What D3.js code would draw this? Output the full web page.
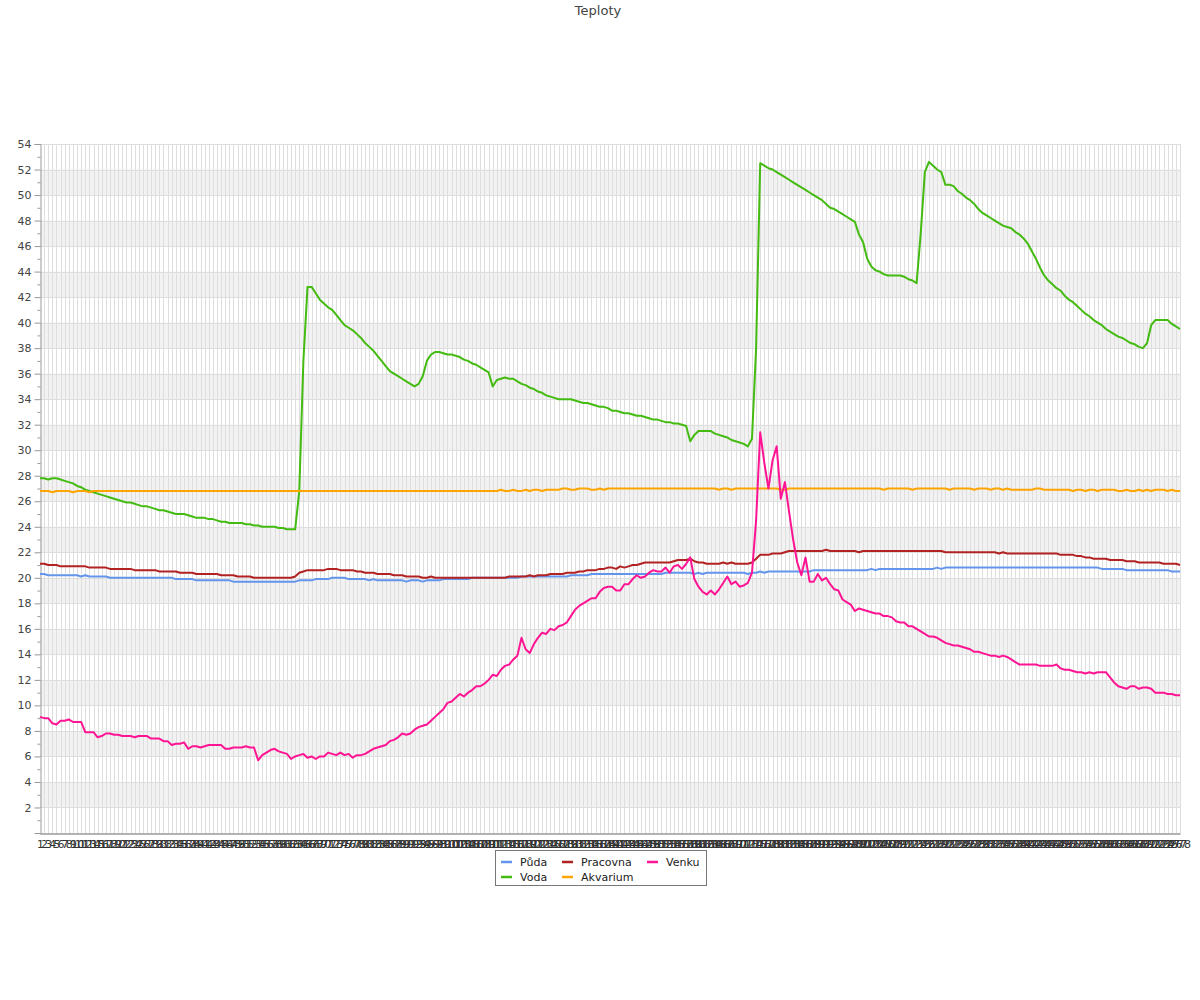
<!DOCTYPE html>
<html><head><meta charset="utf-8">
<script src="https://cdn.jsdelivr.net/npm/d3@7"></script>
<style>body{margin:0;background:#fff;} text{font-family:"DejaVu Sans",sans-serif;}</style>
</head><body>
<svg id="chart" width="1200" height="1000"></svg>
<script>
// ---- data ----
const categories = d3.range(1, 279).map(String); // x tick labels 1..278
const yTicks = [2,4,6,8,10,12,14,16,18,20,22,24,26,28,30,32,34,36,38,40,42,44,46,48,50,52,54];
const seriesNames = ["Půda","Voda","Pracovna","Akvarium","Venku"];
const seriesColors = ["#6495ED","#44BB11","#B22222","#FFA500","#FF1493"];

const puda = [
20.3,20.3,20.2,20.2,20.2,20.2,20.2,20.2,20.2,20.2,
20.1,20.2,20.1,20.1,20.1,20.1,20.1,20.0,20.0,20.0,
20.0,20.0,20.0,20.0,20.0,20.0,20.0,20.0,20.0,20.0,
20.0,20.0,20.0,19.9,19.9,19.9,19.9,19.9,19.8,19.8,
19.8,19.8,19.8,19.8,19.8,19.8,19.8,19.7,19.7,19.7,
19.7,19.7,19.7,19.7,19.7,19.7,19.7,19.7,19.7,19.7,
19.7,19.7,19.7,19.8,19.8,19.8,19.8,19.9,19.9,19.9,
19.9,20.0,20.0,20.0,20.0,19.9,19.9,19.9,19.9,19.9,
19.8,19.9,19.8,19.8,19.8,19.8,19.8,19.8,19.8,19.7,
19.8,19.8,19.8,19.7,19.8,19.8,19.8,19.8,19.9,19.9,
19.9,19.9,19.9,19.9,19.9,20.0,20.0,20.0,20.0,20.0,
20.0,20.0,20.0,20.0,20.0,20.0,20.0,20.1,20.1,20.1,
20.1,20.1,20.1,20.1,20.1,20.1,20.1,20.1,20.1,20.2,
20.2,20.2,20.2,20.2,20.3,20.3,20.3,20.3,20.3,20.3,
20.3,20.3,20.3,20.3,20.3,20.3,20.3,20.3,20.3,20.3,
20.3,20.3,20.4,20.4,20.4,20.4,20.4,20.4,20.4,20.3,
20.4,20.3,20.4,20.4,20.4,20.4,20.4,20.4,20.4,20.4,
20.4,20.4,20.3,20.4,20.4,20.5,20.4,20.5,20.5,20.5,
20.5,20.5,20.5,20.5,20.5,20.5,20.5,20.5,20.6,20.6,
20.6,20.6,20.6,20.6,20.6,20.6,20.6,20.6,20.6,20.6,
20.6,20.6,20.7,20.6,20.7,20.7,20.7,20.7,20.7,20.7,
20.7,20.7,20.7,20.7,20.7,20.7,20.7,20.7,20.8,20.7,
20.8,20.8,20.8,20.8,20.8,20.8,20.8,20.8,20.8,20.8,
20.8,20.8,20.8,20.8,20.8,20.8,20.8,20.8,20.8,20.8,
20.8,20.8,20.8,20.8,20.8,20.8,20.8,20.8,20.8,20.8,
20.8,20.8,20.8,20.8,20.8,20.8,20.8,20.8,20.7,20.7,
20.7,20.7,20.7,20.7,20.6,20.6,20.6,20.6,20.6,20.6,
20.6,20.6,20.6,20.6,20.6,20.5,20.5,20.5];

const voda = [
27.8,27.8,27.7,27.8,27.8,27.7,27.6,27.5,27.4,27.2,
27.1,26.9,26.8,26.7,26.6,26.5,26.4,26.3,26.2,26.1,
26.0,25.9,25.9,25.8,25.7,25.6,25.6,25.5,25.4,25.3,
25.3,25.2,25.1,25.0,25.0,25.0,24.9,24.8,24.7,24.7,
24.7,24.6,24.6,24.5,24.4,24.4,24.3,24.3,24.3,24.3,
24.2,24.2,24.1,24.1,24.0,24.0,24.0,24.0,23.9,23.9,
23.8,23.8,23.8,26.8,37.0,42.8,42.8,42.3,41.8,41.5,
41.2,41.0,40.6,40.2,39.8,39.6,39.4,39.1,38.8,38.4,
38.1,37.8,37.4,37.0,36.6,36.2,36.0,35.8,35.6,35.4,
35.2,35.0,35.2,35.8,37.0,37.5,37.7,37.7,37.6,37.5,
37.5,37.4,37.3,37.1,37.0,36.8,36.7,36.5,36.3,36.1,
35.0,35.5,35.6,35.7,35.6,35.6,35.4,35.2,35.1,34.9,
34.8,34.6,34.5,34.3,34.2,34.1,34.0,34.0,34.0,34.0,
33.9,33.8,33.7,33.7,33.6,33.5,33.4,33.4,33.3,33.1,
33.1,33.0,32.9,32.9,32.8,32.7,32.7,32.6,32.5,32.4,
32.4,32.3,32.2,32.2,32.1,32.1,32.0,31.9,30.7,31.2,
31.5,31.5,31.5,31.5,31.3,31.2,31.1,31.0,30.8,30.7,
30.6,30.5,30.3,30.9,38.0,52.5,52.3,52.1,52.0,51.8,
51.6,51.4,51.2,51.0,50.8,50.6,50.4,50.2,50.0,49.8,
49.6,49.3,49.0,48.9,48.7,48.5,48.3,48.1,47.9,46.9,
46.3,45.0,44.4,44.1,44.0,43.8,43.7,43.7,43.7,43.7,
43.6,43.4,43.3,43.1,47.0,51.8,52.6,52.3,52.0,51.8,
50.8,50.8,50.7,50.3,50.1,49.8,49.6,49.3,48.9,48.6,
48.4,48.2,48.0,47.8,47.6,47.5,47.4,47.1,46.9,46.6,
46.2,45.6,45.0,44.3,43.7,43.3,43.0,42.7,42.5,42.1,
41.8,41.6,41.3,41.0,40.7,40.5,40.2,40.0,39.8,39.5,
39.3,39.1,38.9,38.8,38.6,38.4,38.3,38.1,38.0,38.4,
39.8,40.2,40.2,40.2,40.2,39.9,39.7,39.5];

const pracovna = [
21.1,21.1,21.0,21.0,21.0,20.9,20.9,20.9,20.9,20.9,
20.9,20.9,20.8,20.8,20.8,20.8,20.8,20.7,20.7,20.7,
20.7,20.7,20.7,20.6,20.6,20.6,20.6,20.6,20.6,20.5,
20.5,20.5,20.5,20.5,20.4,20.4,20.4,20.4,20.3,20.3,
20.3,20.3,20.3,20.3,20.2,20.2,20.2,20.2,20.1,20.1,
20.1,20.1,20.0,20.0,20.0,20.0,20.0,20.0,20.0,20.0,
20.0,20.0,20.1,20.4,20.5,20.6,20.6,20.6,20.6,20.6,
20.7,20.7,20.7,20.6,20.6,20.6,20.6,20.5,20.5,20.4,
20.4,20.4,20.3,20.3,20.3,20.3,20.2,20.2,20.2,20.1,
20.1,20.1,20.1,20.0,20.0,20.1,20.0,20.0,20.0,20.0,
20.0,20.0,20.0,20.0,20.0,20.0,20.0,20.0,20.0,20.0,
20.0,20.0,20.0,20.0,20.1,20.1,20.1,20.1,20.1,20.2,
20.1,20.2,20.2,20.2,20.3,20.3,20.3,20.3,20.4,20.4,
20.4,20.5,20.5,20.6,20.6,20.6,20.7,20.7,20.8,20.8,
20.7,20.9,20.8,20.9,21.0,21.0,21.1,21.2,21.2,21.2,
21.2,21.2,21.2,21.2,21.3,21.4,21.4,21.4,21.5,21.3,
21.2,21.2,21.1,21.1,21.1,21.1,21.2,21.1,21.2,21.1,
21.1,21.1,21.1,21.2,21.5,21.8,21.8,21.8,21.9,21.9,
21.9,22.0,22.1,22.1,22.1,22.1,22.1,22.1,22.1,22.1,
22.1,22.2,22.1,22.1,22.1,22.1,22.1,22.1,22.1,22.0,
22.1,22.1,22.1,22.1,22.1,22.1,22.1,22.1,22.1,22.1,
22.1,22.1,22.1,22.1,22.1,22.1,22.1,22.1,22.1,22.1,
22.0,22.0,22.0,22.0,22.0,22.0,22.0,22.0,22.0,22.0,
22.0,22.0,22.0,21.9,22.0,21.9,21.9,21.9,21.9,21.9,
21.9,21.9,21.9,21.9,21.9,21.9,21.9,21.9,21.8,21.8,
21.8,21.8,21.7,21.7,21.6,21.6,21.5,21.5,21.5,21.5,
21.4,21.4,21.4,21.4,21.3,21.3,21.3,21.2,21.2,21.2,
21.2,21.2,21.2,21.1,21.1,21.1,21.1,21.0];

const akvarium = [
26.8,26.8,26.8,26.7,26.8,26.8,26.8,26.8,26.7,26.8,
26.8,26.8,26.7,26.8,26.8,26.8,26.8,26.8,26.8,26.8,
26.8,26.8,26.8,26.8,26.8,26.8,26.8,26.8,26.8,26.8,
26.8,26.8,26.8,26.8,26.8,26.8,26.8,26.8,26.8,26.8,
26.8,26.8,26.8,26.8,26.8,26.8,26.8,26.8,26.8,26.8,
26.8,26.8,26.8,26.8,26.8,26.8,26.8,26.8,26.8,26.8,
26.8,26.8,26.8,26.8,26.8,26.8,26.8,26.8,26.8,26.8,
26.8,26.8,26.8,26.8,26.8,26.8,26.8,26.8,26.8,26.8,
26.8,26.8,26.8,26.8,26.8,26.8,26.8,26.8,26.8,26.8,
26.8,26.8,26.8,26.8,26.8,26.8,26.8,26.8,26.8,26.8,
26.8,26.8,26.8,26.8,26.8,26.8,26.8,26.8,26.8,26.8,
26.8,26.8,26.9,26.8,26.8,26.9,26.8,26.8,26.9,26.8,
26.9,26.9,26.8,26.9,26.9,26.9,26.9,27.0,27.0,26.9,
26.9,27.0,27.0,27.0,26.9,26.9,27.0,26.9,27.0,27.0,
27.0,27.0,27.0,27.0,27.0,27.0,27.0,27.0,27.0,27.0,
27.0,27.0,27.0,27.0,27.0,27.0,27.0,27.0,27.0,27.0,
27.0,27.0,27.0,27.0,27.0,26.9,27.0,27.0,26.9,27.0,
27.0,27.0,27.0,27.0,27.0,27.0,27.0,27.0,27.0,27.0,
26.9,26.9,27.0,27.0,27.0,27.0,27.0,27.0,27.0,27.0,
27.0,27.0,27.0,27.0,27.0,27.0,27.0,27.0,27.0,27.0,
27.0,27.0,27.0,27.0,27.0,26.9,27.0,27.0,27.0,27.0,
27.0,27.0,26.9,27.0,27.0,27.0,27.0,27.0,27.0,27.0,
27.0,26.9,27.0,27.0,27.0,27.0,27.0,26.9,27.0,27.0,
27.0,26.9,27.0,27.0,26.9,27.0,26.9,26.9,26.9,26.9,
26.9,26.9,27.0,27.0,26.9,26.9,26.9,26.9,26.9,26.9,
26.9,26.8,26.9,26.9,26.8,26.9,26.9,26.8,26.9,26.9,
26.9,26.9,26.8,26.8,26.9,26.8,26.8,26.9,26.8,26.9,
26.8,26.9,26.9,26.9,26.8,26.9,26.8,26.8];

const venku = [
9.1,9.0,9.0,8.6,8.5,8.8,8.8,8.9,8.7,8.7,
8.7,7.9,7.9,7.9,7.5,7.6,7.8,7.8,7.7,7.7,
7.6,7.6,7.6,7.5,7.6,7.6,7.6,7.4,7.4,7.4,
7.2,7.2,6.9,7.0,7.0,7.1,6.6,6.8,6.8,6.7,
6.8,6.9,6.9,6.9,6.9,6.6,6.6,6.7,6.7,6.7,
6.8,6.7,6.7,5.7,6.1,6.3,6.5,6.6,6.4,6.3,
6.2,5.8,6.0,6.1,6.2,5.9,6.0,5.8,6.0,6.0,
6.3,6.2,6.1,6.3,6.1,6.2,5.9,6.1,6.1,6.2,
6.4,6.6,6.7,6.8,6.9,7.2,7.3,7.5,7.8,7.7,
7.8,8.1,8.3,8.4,8.5,8.8,9.1,9.4,9.7,10.2,
10.3,10.6,10.9,10.7,11.0,11.2,11.5,11.5,11.7,12.0,
12.4,12.3,12.8,13.1,13.2,13.6,13.9,15.3,14.4,14.1,
14.8,15.3,15.7,15.6,16.0,15.9,16.2,16.3,16.5,17.0,
17.5,17.8,18.0,18.2,18.4,18.4,18.9,19.2,19.3,19.3,
19.0,19.0,19.5,19.5,19.9,20.2,20.0,20.1,20.4,20.6,
20.5,20.5,20.8,20.4,20.9,21.0,20.7,21.1,21.6,19.9,
19.3,18.9,18.7,19.0,18.7,19.1,19.6,20.1,19.5,19.7,
19.3,19.4,19.6,20.4,24.5,31.4,29.0,27.0,29.2,30.3,
26.2,27.5,25.2,23.0,21.2,20.2,21.6,19.7,19.7,20.3,
19.8,20.0,19.5,19.1,19.0,18.3,18.1,17.9,17.4,17.6,
17.5,17.4,17.3,17.2,17.2,17.0,17.0,16.9,16.6,16.5,
16.5,16.2,16.2,16.0,15.8,15.6,15.4,15.4,15.3,15.1,
14.9,14.8,14.7,14.7,14.6,14.5,14.4,14.2,14.2,14.1,
14.0,13.9,13.9,13.8,13.9,13.8,13.6,13.4,13.2,13.2,
13.2,13.2,13.2,13.1,13.1,13.1,13.1,13.2,12.9,12.8,
12.8,12.7,12.6,12.6,12.5,12.6,12.5,12.6,12.6,12.6,
12.2,11.8,11.5,11.4,11.3,11.5,11.5,11.3,11.4,11.4,
11.3,11.0,11.0,11.0,10.9,10.9,10.8,10.8];

const seriesData = [puda, voda, pracovna, akvarium, venku];

// ---- chart ----
(function () {
const svg = d3.select("#chart");
const plotLeft = 40, plotRight = 1180, plotTop = 144, plotBottom = 833;

const x = d3.scalePoint().domain(categories).range([plotLeft, plotRight]);
const y = d3.scaleLinear().domain([0, 54]).range([plotBottom, plotTop]);

svg.append("text").attr("x", 598).attr("y", 15).attr("text-anchor", "middle")
  .attr("font-size", 13).attr("fill", "#444").text("Teploty");

// bands
const bandStarts = yTicks.filter(v => v % 4 === 2 && v < 54);
svg.append("g").selectAll("rect").data(bandStarts).join("rect")
  .attr("x", plotLeft).attr("width", plotRight - plotLeft + 1)
  .attr("y", d => y(d + 2)).attr("height", d => y(d) - y(d + 2))
  .attr("fill", "#f2f2f2");

// vertical grid
svg.append("g").selectAll("line").data(categories.slice(1)).join("line")
  .attr("x1", d => Math.round(x(d)) + 0.5).attr("x2", d => Math.round(x(d)) + 0.5)
  .attr("y1", plotTop).attr("y2", plotBottom)
  .attr("stroke", "#dedede").attr("stroke-width", 1);

// horizontal grid
svg.append("g").selectAll("line").data(yTicks).join("line")
  .attr("x1", plotLeft).attr("x2", plotRight + 1)
  .attr("y1", d => Math.round(y(d)) + 0.5).attr("y2", d => Math.round(y(d)) + 0.5)
  .attr("stroke", "#dedede").attr("stroke-width", 1);

// y axis
const yAxis = d3.axisLeft(y).tickValues(yTicks).tickSize(6).tickPadding(3).tickFormat(d3.format("d"));
const gy = svg.append("g").attr("transform", `translate(${plotLeft + 0.5},0)`).call(yAxis);
gy.select(".domain").attr("stroke", "#999");
gy.selectAll(".tick line").attr("stroke", "#999");
gy.selectAll(".tick text").attr("font-size", 11).attr("fill", "#444").attr("font-family", "DejaVu Sans");
const minor = d3.range(1, 54, 2);
const yMinor = d3.axisLeft(y).tickValues(minor).tickSize(3).tickFormat("");
const gym = svg.append("g").attr("transform", `translate(${plotLeft + 0.5},0)`).call(yMinor);
gym.select(".domain").remove();
gym.selectAll(".tick line").attr("stroke", "#999");

// x axis
const xAxis = d3.axisBottom(x).tickSize(0).tickPadding(7);
const gx = svg.append("g").attr("transform", `translate(0,${plotBottom + 0.5})`).call(xAxis);
gx.select(".domain").attr("stroke", "#999").attr("stroke-width", 1.5);
gx.selectAll(".tick text").attr("font-size", 11).attr("fill", "#333").attr("font-family", "DejaVu Sans");

// lines
const line = d3.line().x((d, i) => x(categories[i])).y(d => y(d));
svg.append("g").selectAll("path").data(seriesData).join("path")
  .attr("d", line).attr("fill", "none")
  .attr("stroke", (d, i) => seriesColors[i]).attr("stroke-width", 2)
  .attr("stroke-linejoin", "round");

// legend
const lg = svg.append("g");
lg.append("rect").attr("x", 495.5).attr("y", 850.5).attr("width", 211).attr("height", 35)
  .attr("fill", "#fff").attr("stroke", "#777");
const colX = [501, 562, 647];
const rowY = [862, 877];
seriesNames.forEach((n, i) => {
  const c = Math.floor(i / 2), r = i % 2;
  lg.append("line").attr("x1", colX[c]).attr("x2", colX[c] + 11)
    .attr("y1", rowY[r]).attr("y2", rowY[r])
    .attr("stroke", seriesColors[i]).attr("stroke-width", 2.5);
  lg.append("text").attr("x", colX[c] + 19).attr("y", rowY[r] + 4)
    .attr("font-size", 11).attr("fill", "#222").text(n);
});
})();
</script></body></html>
